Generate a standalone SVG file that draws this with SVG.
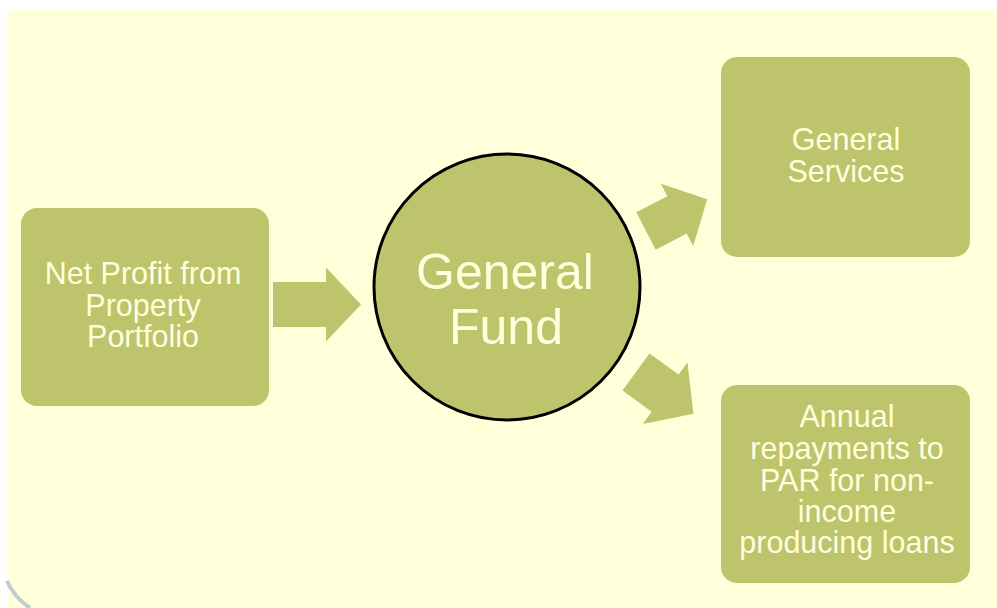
<svg xmlns="http://www.w3.org/2000/svg" width="997" height="608" viewBox="0 0 997 608">
  <defs>
    <style>
      .bg { fill: #FFFFD9; }
      .box { fill: #BDC46C; }
      .hub { fill: #BDC46C; stroke: #000000; stroke-width: 3; }
      .flow { fill: #BDC46C; }
      .label { font-family: "Liberation Sans", Arial, sans-serif; fill: #FFFFDC; text-anchor: middle; font-size: 30.5px; }
      .label-big { font-size: 50px; }
    </style>
  </defs>

  <rect x="0" y="0" width="997" height="608" fill="#FFFFFF"/>
  <rect class="bg" x="7" y="10" width="990" height="598"/>
  <path d="M7,581 Q14,597 30,608" fill="none" stroke="#BFCCD3" stroke-width="4"/>

  <g id="net-profit">
    <rect class="box" x="21" y="208" width="248" height="198" rx="16" ry="16"/>
    <text class="label" x="143" y="284">Net Profit from</text>
    <text class="label" x="143" y="316">Property</text>
    <text class="label" x="143" y="347">Portfolio</text>
  </g>

  <g id="general-fund">
    <circle class="hub" cx="507" cy="287" r="133"/>
    <text class="label label-big" x="505" y="289">General</text>
    <text class="label label-big" x="506" y="344">Fund</text>
  </g>

  <g id="general-services">
    <rect class="box" x="721" y="57" width="249" height="200" rx="16" ry="16"/>
    <text class="label" x="846" y="150">General</text>
    <text class="label" x="846" y="182">Services</text>
  </g>

  <g id="annual-repayments">
    <rect class="box" x="721" y="385" width="249" height="198" rx="16" ry="16"/>
    <text class="label" x="847" y="427">Annual</text>
    <text class="label" x="847" y="459">repayments to</text>
    <text class="label" x="847" y="491">PAR for non-</text>
    <text class="label" x="847" y="522">income</text>
    <text class="label" x="847" y="553">producing loans</text>
  </g>

  <g id="connectors">
    <path class="flow" transform="translate(273,304.5)" d="M0,-22.5 H53 V-37 L88,0 L53,37 V22.5 H0 Z"/>
    <path class="flow" transform="translate(646,231) rotate(-27.5)" d="M0,-21 H35 V-35 L69,0 L35,35 V21 H0 Z"/>
    <path class="flow" transform="translate(636,372) rotate(36)" d="M0,-23 H36 V-38 L71,0 L36,38 V23 H0 Z"/>
  </g>
</svg>
